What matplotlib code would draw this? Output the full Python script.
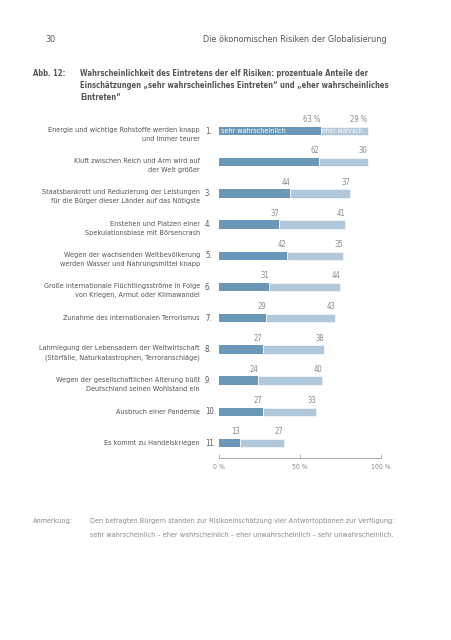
import matplotlib.pyplot as plt
import numpy as np

plt.rcParams['font.family'] = ['DejaVu Sans']
plt.rcParams['font.stretch'] = 'condensed'

# Daten
risiken = [
    "Energie und wichtige Rohstoffe werden knapp\nund immer teurer",
    "Kluft zwischen Reich und Arm wird auf\nder Welt größer",
    "Staatsbankrott und Reduzierung der Leistungen\nfür die Bürger dieser Länder auf das Nötigste",
    "Enstehen und Platzen einer\nSpekulationsblase mit Börsencrash",
    "Wegen der wachsenden Weltbevölkerung\nwerden Wasser und Nahrungsmittel knapp",
    "Große internationale Flüchtlingsströme in Folge\nvon Kriegen, Armut oder Klimawandel",
    "Zunahme des internationalen Terrorismus",
    "Lahmlegung der Lebensadern der Weltwirtschaft\n(Störfälle, Naturkatastrophen, Terroranschläge)",
    "Wegen der gesellschaftlichen Alterung büßt\nDeutschland seinen Wohlstand ein",
    "Ausbruch einer Pandemie",
    "Es kommt zu Handelskriegen",
]
nummern = ["1.", "", "3.", "4.", "5.", "6.", "7.", "8.", "9.", "10.", "11."]
sehr = [63, 62, 44, 37, 42, 31, 29, 27, 24, 27, 13]
eher = [29, 30, 37, 41, 35, 44, 43, 38, 40, 33, 27]
ticks = [0, 50, 100]
tick_labels = ["0 %", "50 %", "100 %"]

W, H = 452, 640
fig = plt.figure(figsize=(W / 100, H / 100), dpi=100)

dunkel = '#6b98b9'
hell = '#b0c8da'
grau = '#555555'
hellgrau = '#8a8a8a'


def fx(px):
    return px / W


def fy(py):
    return 1 - py / H


# Kopfzeile
fig.text(fx(45), fy(39), "30", fontsize=6.5, color=grau, va='center')
fig.text(fx(387), fy(39), "Die ökonomischen Risiken der Globalisierung", fontsize=6.5,
         color=grau, va='center', ha='right')

# Titel
fig.text(fx(33), fy(74), "Abb. 12:", fontsize=5.5, color=grau, va='center', weight='bold')
titel = ["Wahrscheinlichkeit des Eintretens der elf Risiken: prozentuale Anteile der",
         "Einschätzungen \u201esehr wahrscheinliches Eintreten\u201c und \u201eeher wahrscheinliches",
         "Eintreten\u201c"]
for i, t in enumerate(titel):
    fig.text(fx(80), fy(74 + i * 11.5), t, fontsize=5.5, color=grau,
             va='center', weight='bold')

# Diagramm
top_px, bot_px = 115, 458
ax = fig.add_axes([fx(219), fy(bot_px), fx(380.6) - fx(219), (bot_px - top_px) / H])
n = len(risiken)
y = np.arange(n)
ax.set_ylim(n - 1 + 15.0 / 31.2, -16.0 / 31.2)
ax.set_xlim(0, 100)
bar_h = 8.5 / 31.2
ax.barh(y, sehr, height=bar_h, color=dunkel)
ax.barh(y, eher, left=sehr, height=bar_h, color=hell, edgecolor='white', linewidth=0.4)

px = 100 / 161.6  # Datenwert je Pixel
for i in range(n):
    s, e = sehr[i], eher[i]
    suffix = " %" if i == 0 else ""
    ax.text(s, y[i] - 0.22, f"{s}{suffix}", ha='right', va='bottom', fontsize=5.5, color=hellgrau)
    ax.text(s + e, y[i] - 0.22, f"{e}{suffix}", ha='right', va='bottom', fontsize=5.5, color=hellgrau)
    # Beschriftung links
    if '\n' in risiken[i]:
        ax.text(-19 * px, y[i] - 0.13, risiken[i], ha='right', va='top',
                fontsize=5.2, color=grau, linespacing=1.6)
    else:
        ax.text(-19 * px, y[i], risiken[i], ha='right', va='center',
                fontsize=5.2, color=grau)
    ax.text(-14 * px, y[i], nummern[i], ha='left',
            va='center', fontsize=5.5, color=grau)

# Legende im ersten Balken
ax.text(1.2, 0, "sehr wahrscheinlich", color='white', fontsize=5.1, va='center', ha='left')
ax.text(sehr[0] + 1.0, 0, "eher wahrsch.", color='white', fontsize=4.8, va='center', ha='left')

for sp in ['top', 'right', 'left']:
    ax.spines[sp].set_visible(False)
ax.spines['bottom'].set_color('#9a9a9a')
ax.spines['bottom'].set_linewidth(0.6)
ax.set_yticks([])
ax.set_xticks(ticks)
ax.set_xticklabels(tick_labels, fontsize=5, color=hellgrau)
ax.tick_params(axis='x', direction='in', length=3, width=0.5, color='#9a9a9a', pad=4)
ax.patch.set_alpha(0)

# Anmerkung
fig.text(fx(33), fy(521), "Anmerkung:", fontsize=5.2, color=hellgrau, va='center')
fig.text(fx(90), fy(521), "Den befragten Bürgern standen zur Risikoeinschätzung vier Antwortoptionen zur Verfügung:",
         fontsize=5.2, color=hellgrau, va='center')
fig.text(fx(90), fy(535), "sehr wahrscheinlich \u2013 eher wahrscheinlich \u2013 eher unwahrscheinlich \u2013 sehr unwahrscheinlich.",
         fontsize=5.2, color=hellgrau, va='center')

fig.savefig("out.png", dpi=100)
